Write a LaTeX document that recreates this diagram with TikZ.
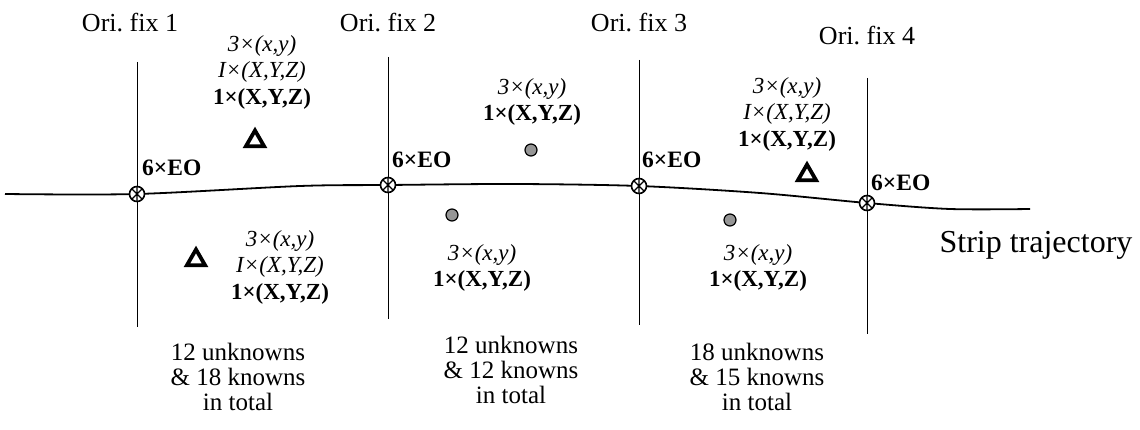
\documentclass[tikz,border=0pt]{standalone}
\usepackage{fontspec}
\setmainfont{Liberation Serif}
\usetikzlibrary{shapes.geometric}
\definecolor{tiegray}{RGB}{150,150,150}
\begin{document}
\begin{tikzpicture}[x=1pt,y=-1pt,
  vline/.style={line width=0.8pt},
  traj/.style={line width=1.8pt},
  fixmark/.style={circle, draw, line width=1.6pt, fill=white, minimum size=15pt, inner sep=0pt,
    path picture={\draw[line width=1.1pt]
      (path picture bounding box.north west)--(path picture bounding box.south east)
      (path picture bounding box.north east)--(path picture bounding box.south west)
      (path picture bounding box.north)--(path picture bounding box.south);}},
  gcp/.style={regular polygon, regular polygon sides=3, draw, line width=3.8pt, minimum size=21pt, inner sep=0pt},
  tie/.style={circle, draw, fill=tiegray, line width=1.2pt, minimum size=12pt, inner sep=0pt},
  fixlbl/.style={font=\fontsize{26}{30}\selectfont, inner sep=0pt},
  eo/.style={font=\fontsize{23.5}{27}\selectfont\bfseries, anchor=west, inner sep=0pt},
  obs/.style={font=\fontsize{23}{26.5}\selectfont, align=center, inner sep=0pt},
  tot/.style={font=\fontsize{25}{25}\selectfont, align=center, inner sep=0pt},
  traj lbl/.style={font=\fontsize{32}{36}\selectfont, inner sep=0pt},
]
\useasboundingbox (0,0) rectangle (1140,430);

% vertical fix lines
\coordinate (t1) at (137,62);  \coordinate (b1) at (137,327);
\coordinate (t2) at (388,57);  \coordinate (b2) at (388,319);
\coordinate (t3) at (639,60);  \coordinate (b3) at (639,325);
\coordinate (t4) at (867,78);  \coordinate (b4) at (867,334);
\draw[vline] (t1) -- (b1);
\draw[vline] (t2) -- (b2);
\draw[vline] (t3) -- (b3);
\draw[vline] (t4) -- (b4);

% trajectory
\coordinate (s) at (5,194);
\coordinate (f1c) at (137,194);
\coordinate (p1) at (300,186);
\coordinate (f2c) at (388,185);
\coordinate (p2) at (515,184);
\coordinate (f3c) at (639,186);
\coordinate (p3) at (760,193);
\coordinate (f4c) at (867,203);
\coordinate (p4) at (950,209);
\coordinate (e) at (1030,209);
\draw[traj] plot[smooth, tension=0.5] coordinates {(s) (f1c) (p1) (f2c) (p2) (f3c) (p3) (f4c) (p4) (e)};

% fix markers
\node[fixmark] (f1) at (f1c) {};
\node[fixmark] (f2) at (f2c) {};
\node[fixmark] (f3) at (f3c) {};
\node[fixmark] (f4) at (f4c) {};

% fix labels
\node[fixlbl] (o1) at (130,23) {Ori.\ fix 1};
\node[fixlbl] (o2) at (388,23) {Ori.\ fix 2};
\node[fixlbl] (o3) at (639,23) {Ori.\ fix 3};
\node[fixlbl] (o4) at (867,36) {Ori.\ fix 4};

% EO labels
\node[eo] (e1) at (142,168) {6×EO};
\node[eo] (e2) at (392,160) {6×EO};
\node[eo] (e3) at (642,160) {6×EO};
\node[eo] (e4) at (871,183) {6×EO};

% observation blocks
\node[obs] (bA) at (262,72) {\textit{3×(x,y)}\\\textit{I×(X,Y,Z)}\\\textbf{1×(X,Y,Z)}};
\node[gcp] (gA) at (255,141) {};
\node[obs] (bB) at (532,102) {\textit{3×(x,y)}\\\textbf{1×(X,Y,Z)}};
\node[tie] (dB) at (531,150) {};
\node[obs] (bC) at (787,114) {\textit{3×(x,y)}\\\textit{I×(X,Y,Z)}\\\textbf{1×(X,Y,Z)}};
\node[gcp] (gC) at (807,175) {};
\node[obs] (bD) at (280,267) {\textit{3×(x,y)}\\\textit{I×(X,Y,Z)}\\\textbf{1×(X,Y,Z)}};
\node[gcp] (gD) at (196,260) {};
\node[tie] (dE) at (452,215) {};
\node[obs] (bE) at (482,268) {\textit{3×(x,y)}\\\textbf{1×(X,Y,Z)}};
\node[tie] (dF) at (730,220) {};
\node[obs] (bF) at (758,268) {\textit{3×(x,y)}\\\textbf{1×(X,Y,Z)}};

% totals
\node[tot] (s1) at (238,377) {12 unknowns\\\& 18 knowns\\in total};
\node[tot] (s2) at (511,370) {12 unknowns\\\& 12 knowns\\in total};
\node[tot] (s3) at (757,377) {18 unknowns\\\& 15 knowns\\in total};

\node[traj lbl] (tl) at (1036,245) {Strip trajectory};
\end{tikzpicture}
\end{document}
